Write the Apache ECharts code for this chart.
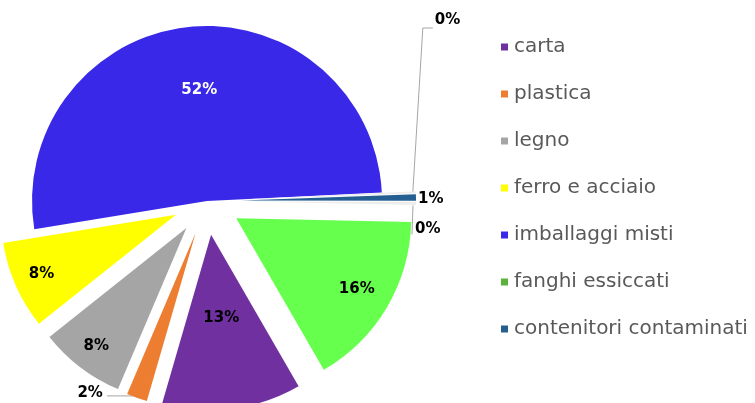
<!DOCTYPE html>
<html><head><meta charset="utf-8">
<script src="https://cdn.jsdelivr.net/npm/echarts@6/dist/echarts.min.js"></script>
<style>html,body{margin:0;padding:0;background:#fff}#c{width:755px;height:403px}</style>
</head><body><div id="c"></div>
<script>
// ---- data (clockwise slice order) ----
const categories = ['carta','plastica','legno','ferro e acciaio','imballaggi misti','altri rifiuti','contenitori contaminati','altro','fanghi essiccati'];
const values = [12.8, 1.9, 7.9, 8.1, 51.7, 0.2, 0.6, 0.3, 16.3];
const legendNames = ['carta','plastica','legno','ferro e acciaio','imballaggi misti','fanghi essiccati','contenitori contaminati'];

// ---- styles / layout ----
const colors = ['#7030A0','#ED7D31','#A5A5A5','#FFFF00','#3A28E8','#EDEDED','#255E91','#EDEDED','#66FF4D'];
const legendIconColors = {'fanghi essiccati':'#5BB23A'};
const CX = 207, CY = 201, R = 175, OFF = 34, START = -60;
const exploded = [true,true,true,true,false,true,true,true,true];
const insideK = {0:0.48, 2:0.85, 3:0.84, 4:0.64, 8:0.80};

const total = values.reduce((a,b)=>a+b,0);
const cum = []; let acc = 0;
values.forEach(v => { cum.push(acc); acc += v; });
function dirOf(i){
  const a = (START - (cum[i] + values[i]/2) / total * 360) * Math.PI/180;
  return [Math.cos(a), -Math.sin(a)];
}
function tipOf(i){
  const d = dirOf(i), off = exploded[i] ? OFF : 0;
  return [CX + d[0]*(R+off), CY + d[1]*(R+off)];
}

// visible slices (exploded through the library's selection offset)
const sliceData = categories.map((n,i) => ({
  name: n, value: values[i], selected: exploded[i], itemStyle: {color: colors[i]}
}));
// invisible twin series carrying the labels
const labelData = categories.map((n,i) => {
  const inside = insideK[i] != null;
  return {
    name: n, value: values[i],
    label: {position: inside ? 'inside' : 'outside', color: i === 4 ? '#ffffff' : '#000000'},
    labelLine: {show: !inside && i !== 6}
  };
});

const FONT = 'DejaVu Sans';
const chart = echarts.init(document.getElementById('c'));
chart.setOption({
  animation: false,
  backgroundColor: '#ffffff',
  legend: {
    orient: 'vertical', left: 496, top: 30,
    itemWidth: 7, itemHeight: 7, itemGap: 23, icon: 'rect',
    selectedMode: false,
    textStyle: {color: '#595959', fontSize: 20, fontFamily: FONT, lineHeight: 24, padding: [0,0,0,1]},
    data: legendNames.map(n => legendIconColors[n] ? {name: n, itemStyle: {color: legendIconColors[n]}} : {name: n})
  },
  series: [{
    type: 'pie',
    center: [CX, CY], radius: [0, R],
    startAngle: START, clockwise: true,
    selectedMode: 'multiple', selectedOffset: OFF,
    avoidLabelOverlap: false,
    itemStyle: {borderWidth: 0},
    emphasis: {disabled: true},
    label: {show: false}, labelLine: {show: false},
    data: sliceData
  }, {
    type: 'pie',
    center: [CX, CY], radius: [0, R],
    startAngle: START, clockwise: true,
    selectedMode: false, silent: true,
    avoidLabelOverlap: false,
    itemStyle: {color: 'rgba(0,0,0,0)', borderWidth: 0},
    emphasis: {disabled: true},
    label: {
      show: true, fontFamily: FONT, fontWeight: 'bold', fontSize: 15,
      formatter: p => Math.round(p.value) + '%'
    },
    labelLine: {lineStyle: {color: '#A6A6A6', width: 1}, length: 10, length2: 10},
    labelLayout: function (p) {
      const i = p.dataIndex;
      const d = dirOf(i);
      if (insideK[i] != null) {
        const off = exploded[i] ? OFF : 0;
        const rr = off + insideK[i]*R;
        return {x: CX + d[0]*rr + (i === 4 ? 4 : 0), y: CY + d[1]*rr, align: 'center', verticalAlign: 'middle'};
      }
      const t = tipOf(i);
      if (i === 1) {
        return {x: t[0]-34, y: t[1]-5, align: 'right', verticalAlign: 'middle',
          labelLinePoints: [[t[0], t[1]-1], [t[0]-3, t[1]-2], [t[0]-30, t[1]-2]]};
      }
      if (i === 5) {
        return {x: t[0]+19, y: 20, align: 'left', verticalAlign: 'middle',
          labelLinePoints: [[t[0]-3, t[1]], [t[0]+7, 28], [t[0]+17, 28]]};
      }
      if (i === 6) {
        return {x: t[0]+2, y: t[1]+2, align: 'left', verticalAlign: 'middle'};
      }
      if (i === 7) {
        return {x: t[0]-1, y: t[1]+26, align: 'left', verticalAlign: 'middle',
          labelLinePoints: [[t[0]-3, t[1]+2], [t[0]-4, t[1]+31], [t[0]-4, t[1]+31]]};
      }
      return {};
    },
    data: labelData
  }]
});
</script>
</body></html>
